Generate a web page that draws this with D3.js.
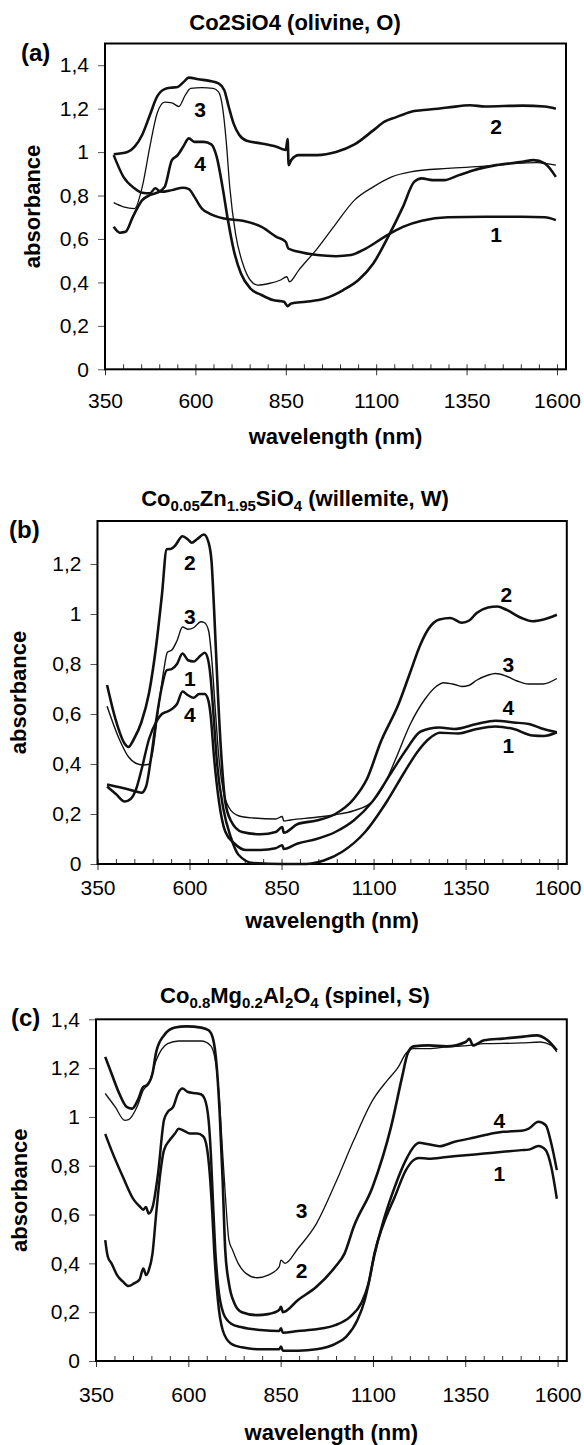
<!DOCTYPE html>
<html>
<head>
<meta charset="utf-8">
<script src="https://cdnjs.cloudflare.com/ajax/libs/d3/7.8.5/d3.min.js"></script>
<style>
  body { margin: 0; background: #fff; }
  text { font-family: "Liberation Sans", Arial, sans-serif; fill: #000; }
</style>
</head>
<body>
<svg id="chart" width="584" height="1445"></svg>
<script>
// x axis (nm) and y axis tick values
var xTicks = [350, 600, 850, 1100, 1350, 1600];
var yTicksA = [0, 0.2, 0.4, 0.6, 0.8, 1, 1.2, 1.4];
var yTicksB = [0, 0.2, 0.4, 0.6, 0.8, 1, 1.2];
var yTicksC = [0, 0.2, 0.4, 0.6, 0.8, 1, 1.2, 1.4];

// (a) Co2SiO4 olivine, [wavelength, absorbance]
var olivine1 = [[374,0.986],[401,0.886],[432,0.833],[453,0.813],[474,0.81],[489,0.833],[505,0.817],[535,0.825],[566,0.836],[582,0.83],[597,0.795],[618,0.74],[639,0.717],[680,0.694],[731,0.684],[783,0.656],[824,0.61],[850,0.587],[857,0.556],[886,0.541],[937,0.526],[989,0.521],[1030,0.526],[1071,0.556],[1123,0.61],[1174,0.656],[1226,0.684],[1298,0.7],[1401,0.702],[1504,0.702],[1566,0.7],[1597,0.687]];
var olivine2 = [[374,0.99],[412,1.0],[432,1.025],[453,1.08],[474,1.17],[494,1.255],[515,1.29],[535,1.297],[551,1.3],[566,1.32],[582,1.343],[608,1.335],[639,1.328],[664,1.316],[680,1.285],[692,1.21],[706,1.13],[721,1.08],[742,1.052],[783,1.04],[824,1.025],[850,1.01],[855,1.06],[858,0.94],[865,0.963],[886,0.986],[937,0.986],[989,1.0],[1040,1.035],[1092,1.1],[1123,1.14],[1154,1.16],[1195,1.185],[1247,1.196],[1298,1.205],[1360,1.216],[1401,1.21],[1504,1.214],[1566,1.21],[1597,1.2]];
var olivine3 = [[374,0.767],[401,0.748],[432,0.74],[453,0.84],[474,1.024],[494,1.178],[515,1.23],[535,1.227],[554,1.21],[572,1.262],[587,1.293],[618,1.297],[649,1.293],[664,1.277],[675,1.208],[685,1.055],[695,0.84],[711,0.625],[731,0.487],[752,0.41],[772,0.388],[803,0.395],[834,0.41],[853,0.426],[860,0.403],[886,0.457],[937,0.556],[989,0.671],[1040,0.779],[1092,0.84],[1143,0.886],[1195,0.909],[1298,0.925],[1401,0.935],[1484,0.948],[1545,0.952],[1597,0.94]];
var olivine4 = [[374,0.656],[391,0.629],[407,0.633],[427,0.702],[453,0.779],[474,0.802],[494,0.813],[515,0.84],[535,0.963],[551,0.986],[566,1.024],[582,1.063],[597,1.047],[623,1.047],[644,1.036],[659,0.978],[675,0.84],[690,0.687],[706,0.549],[726,0.441],[752,0.372],[783,0.342],[814,0.319],[845,0.311],[855,0.291],[865,0.303],[906,0.311],[958,0.326],[1009,0.365],[1051,0.411],[1092,0.487],[1133,0.61],[1174,0.748],[1205,0.863],[1226,0.879],[1256,0.871],[1288,0.871],[1329,0.894],[1370,0.917],[1432,0.94],[1504,0.955],[1535,0.963],[1566,0.948],[1597,0.886]];

// (b) Co0.05Zn1.95SiO4 willemite
var willemite1 = [[376,0.318],[400,0.31],[430,0.3],[455,0.29],[470,0.285],[482,0.31],[495,0.42],[510,0.58],[525,0.71],[538,0.775],[552,0.78],[566,0.8],[581,0.842],[596,0.815],[611,0.81],[631,0.835],[641,0.845],[650,0.82],[657,0.75],[665,0.6],[675,0.4],[692,0.22],[712,0.108],[733,0.037],[773,0.004],[854,0.0],[915,0.0],[965,0.014],[1016,0.05],[1077,0.128],[1137,0.252],[1185,0.37],[1220,0.45],[1250,0.5],[1280,0.525],[1330,0.522],[1380,0.54],[1431,0.55],[1481,0.54],[1532,0.514],[1562,0.512],[1598,0.527]];
var willemite2 = [[376,0.716],[399,0.579],[424,0.481],[434,0.468],[449,0.5],[469,0.566],[490,0.684],[510,0.88],[525,1.076],[538,1.259],[550,1.261],[560,1.272],[581,1.311],[596,1.298],[606,1.285],[621,1.3],[639,1.318],[652,1.285],[660,1.207],[667,1.01],[677,0.684],[687,0.42],[697,0.25],[712,0.174],[743,0.128],[793,0.119],[834,0.128],[852,0.148],[856,0.125],[894,0.16],[945,0.174],[996,0.2],[1046,0.26],[1082,0.34],[1120,0.49],[1168,0.64],[1198,0.76],[1228,0.88],[1249,0.94],[1279,0.978],[1309,0.984],[1340,0.965],[1360,0.974],[1380,1.004],[1411,1.026],[1436,1.03],[1461,1.017],[1502,0.984],[1532,0.971],[1562,0.978],[1598,0.997]];
var willemite3 = [[376,0.631],[409,0.5],[434,0.429],[454,0.403],[474,0.396],[490,0.399],[500,0.448],[515,0.618],[530,0.775],[540,0.847],[552,0.856],[566,0.893],[581,0.948],[596,0.939],[611,0.945],[631,0.969],[641,0.965],[652,0.932],[660,0.827],[670,0.618],[680,0.422],[692,0.29],[707,0.226],[733,0.193],[773,0.184],[834,0.18],[852,0.19],[856,0.172],[874,0.176],[945,0.187],[996,0.197],[1046,0.213],[1097,0.25],[1130,0.32],[1160,0.42],[1200,0.56],[1240,0.66],[1270,0.71],[1290,0.725],[1320,0.718],[1340,0.71],[1360,0.715],[1380,0.735],[1410,0.755],[1431,0.762],[1460,0.752],[1490,0.732],[1520,0.72],[1560,0.72],[1598,0.742]];
var willemite4 = [[376,0.31],[400,0.28],[424,0.25],[440,0.26],[455,0.3],[470,0.38],[490,0.5],[510,0.57],[525,0.6],[540,0.61],[552,0.62],[566,0.64],[581,0.69],[596,0.675],[611,0.665],[626,0.68],[641,0.68],[650,0.66],[657,0.6],[667,0.42],[680,0.25],[697,0.13],[722,0.082],[753,0.056],[793,0.056],[834,0.063],[852,0.075],[856,0.06],[894,0.082],[945,0.1],[996,0.128],[1046,0.174],[1097,0.25],[1150,0.37],[1190,0.46],[1228,0.53],[1279,0.546],[1319,0.54],[1380,0.56],[1431,0.573],[1481,0.566],[1522,0.56],[1562,0.54],[1598,0.527]];

// (c) Co0.8Mg0.2Al2O4 spinel
var spinel1 = [[375,0.495],[382,0.427],[392,0.4],[407,0.352],[423,0.325],[438,0.307],[453,0.318],[468,0.334],[478,0.379],[486,0.352],[493,0.372],[503,0.44],[513,0.604],[524,0.768],[534,0.863],[549,0.904],[564,0.932],[574,0.952],[589,0.943],[604,0.932],[624,0.932],[640,0.921],[650,0.877],[658,0.768],[665,0.604],[670,0.454],[680,0.25],[693,0.127],[715,0.072],[745,0.056],[796,0.048],[846,0.048],[851,0.059],[856,0.042],[897,0.042],[947,0.048],[998,0.07],[1028,0.1],[1058,0.168],[1078,0.25],[1094,0.359],[1104,0.44],[1129,0.563],[1159,0.672],[1189,0.781],[1210,0.823],[1225,0.832],[1250,0.829],[1300,0.836],[1351,0.843],[1401,0.85],[1452,0.857],[1502,0.864],[1522,0.866],[1548,0.881],[1568,0.864],[1583,0.795],[1598,0.665]];
var spinel2 = [[375,1.246],[392,1.178],[413,1.096],[433,1.041],[448,1.034],[463,1.068],[478,1.123],[488,1.13],[503,1.178],[513,1.266],[534,1.334],[564,1.366],[594,1.371],[635,1.366],[655,1.355],[667,1.32],[677,1.205],[685,1.014],[693,0.74],[700,0.454],[710,0.318],[725,0.236],[745,0.2],[786,0.188],[816,0.192],[846,0.209],[851,0.222],[856,0.2],[897,0.25],[947,0.304],[998,0.386],[1023,0.44],[1048,0.55],[1099,0.713],[1149,0.959],[1179,1.164],[1194,1.26],[1210,1.289],[1250,1.293],[1300,1.289],[1351,1.307],[1361,1.32],[1371,1.293],[1401,1.314],[1452,1.321],[1502,1.328],[1543,1.334],[1573,1.314],[1598,1.273]];
var spinel3 = [[375,1.096],[402,1.041],[428,0.986],[438,0.989],[463,1.048],[478,1.109],[493,1.137],[513,1.232],[544,1.3],[574,1.311],[635,1.311],[660,1.293],[673,1.232],[683,1.096],[692,0.877],[700,0.686],[710,0.495],[720,0.454],[735,0.4],[756,0.359],[786,0.341],[816,0.352],[846,0.386],[851,0.413],[862,0.4],[897,0.461],[947,0.563],[998,0.727],[1048,0.904],[1099,1.068],[1139,1.15],[1169,1.205],[1189,1.26],[1210,1.28],[1250,1.28],[1300,1.287],[1361,1.293],[1401,1.3],[1502,1.303],[1553,1.307],[1583,1.293],[1598,1.266]];
var spinel4 = [[375,0.93],[392,0.863],[423,0.754],[453,0.659],[468,0.634],[478,0.62],[485,0.631],[493,0.604],[503,0.629],[518,0.768],[534,0.986],[544,1.02],[559,1.041],[572,1.096],[584,1.116],[599,1.102],[614,1.098],[634,1.093],[644,1.075],[655,0.986],[661,0.85],[667,0.645],[673,0.454],[680,0.318],[695,0.195],[715,0.154],[745,0.138],[796,0.127],[846,0.123],[851,0.134],[856,0.116],[897,0.123],[947,0.13],[998,0.147],[1038,0.181],[1068,0.236],[1088,0.318],[1099,0.4],[1129,0.577],[1159,0.713],[1189,0.823],[1210,0.877],[1225,0.894],[1250,0.888],[1280,0.88],[1321,0.898],[1361,0.911],[1401,0.925],[1452,0.939],[1502,0.943],[1522,0.952],[1548,0.98],[1568,0.966],[1583,0.891],[1598,0.782]];

// curve number labels [text, wavelength, absorbance]
var labelsA = [['3',613,1.196],['4',613,0.95],['2',1432,1.12],['1',1432,0.62]];
var labelsB = [['2',601,1.205],['3',601,0.99],['1',601,0.742],['4',601,0.6],['2',1461,1.08],['3',1466,0.8],['4',1466,0.625],['1',1466,0.475]];
var labelsC = [['3',907,0.617],['2',907,0.372],['4',1442,0.986],['1',1442,0.768]];

var panels = [
  { tag: '(a)', title: [['Co2SiO4 (olivine, O)', false]],
    left: 105, right: 566, top: 43.5, bottom: 369.3, yMax: 1.5, yTicks: yTicksA,
    xBase: 39, tagX: 21, tagY: 61, titleY: 30, yLabX: 40, xLabY: 444,
    series: [[olivine1, 2.5], [olivine2, 2.6], [olivine3, 1.3], [olivine4, 2.6]], labels: labelsA },
  { tag: '(b)', title: [['Co', false], ['0.05', true], ['Zn', false], ['1.95', true], ['SiO', false], ['4', true], [' (willemite, W)', false]],
    left: 97.5, right: 566.8, top: 521, bottom: 864, yMax: 1.372, yTicks: yTicksB,
    xBase: 31, tagX: 9, tagY: 538, titleY: 506, yLabX: 26, xLabY: 928,
    series: [[willemite1, 2.5], [willemite2, 2.6], [willemite3, 1.4], [willemite4, 2.5]], labels: labelsB },
  { tag: '(c)', title: [['Co', false], ['0.8', true], ['Mg', false], ['0.2', true], ['Al', false], ['2', true], ['O', false], ['4', true], [' (spinel, S)', false]],
    left: 96, right: 566.8, top: 1019.3, bottom: 1361, yMax: 1.4, yTicks: yTicksC,
    xBase: 41, tagX: 11, tagY: 1026, titleY: 1003, yLabX: 27, xLabY: 1440,
    series: [[spinel1, 2.5], [spinel2, 2.6], [spinel3, 1.3], [spinel4, 2.5]], labels: labelsC }
];

var svg = d3.select('#chart');
var commaFormat = function(d) { return String(d).replace('.', ','); };
var tickFont = 21;

var drawPanel = function(p) {
  var x = d3.scaleLinear().domain([350, 1625]).range([p.left, p.right]);
  var y = d3.scaleLinear().domain([0, p.yMax]).range([p.bottom, p.top]);
  var g = svg.append('g');

  // minor ticks every 50 nm, pointing into the plot
  var minor = g.append('g')
    .attr('transform', 'translate(0,' + p.bottom + ')')
    .call(d3.axisBottom(x).tickValues(d3.range(350, 1601, 50)).tickSize(-5).tickFormat(''));
  minor.select('.domain').remove();
  minor.selectAll('line').attr('stroke', '#333');

  // major ticks + labels (baseline sits xBase px under the axis)
  var xAxis = g.append('g')
    .attr('transform', 'translate(0,' + p.bottom + ')')
    .call(d3.axisBottom(x).tickValues(xTicks).tickSize(6)
      .tickPadding(p.xBase - 6 - tickFont * 0.71).tickFormat(d3.format('d')));
  xAxis.select('.domain').remove();
  xAxis.selectAll('line').attr('stroke', '#333');
  xAxis.selectAll('text').attr('font-size', tickFont).attr('font-family', '"Liberation Sans", Arial, sans-serif');

  var yAxis = g.append('g')
    .attr('transform', 'translate(' + p.left + ',0)')
    .call(d3.axisLeft(y).tickValues(p.yTicks).tickSize(7).tickPadding(9).tickFormat(commaFormat));
  yAxis.select('.domain').remove();
  yAxis.selectAll('line').attr('stroke', '#555');
  yAxis.selectAll('text').attr('font-size', tickFont).attr('font-family', '"Liberation Sans", Arial, sans-serif');

  // frame
  g.append('rect')
    .attr('x', p.left).attr('y', p.top)
    .attr('width', p.right - p.left).attr('height', p.bottom - p.top)
    .attr('fill', 'none').attr('stroke', '#000').attr('stroke-width', 2);

  var line = d3.line()
    .x(function(d) { return x(d[0]); })
    .y(function(d) { return y(d[1]); })
    .curve(d3.curveMonotoneX);

  g.selectAll('path.spectrum')
    .data(p.series)
    .enter().append('path')
    .attr('class', 'spectrum')
    .attr('d', function(s) { return line(s[0]); })
    .attr('fill', 'none')
    .attr('stroke', '#111')
    .attr('stroke-width', function(s) { return s[1]; })
    .attr('stroke-linejoin', 'round');

  g.selectAll('text.num')
    .data(p.labels)
    .enter().append('text')
    .attr('class', 'num')
    .attr('x', function(d) { return x(d[1]); })
    .attr('y', function(d) { return y(d[2]); })
    .attr('dy', '0.36em')
    .attr('text-anchor', 'middle')
    .attr('font-size', 21)
    .attr('font-weight', 'bold')
    .text(function(d) { return d[0]; });

  // title with subscripts
  var title = g.append('text')
    .attr('x', 295).attr('y', p.titleY)
    .attr('text-anchor', 'middle')
    .attr('font-size', 22)
    .attr('font-weight', 'bold');
  var shifted = false;
  p.title.forEach(function(part) {
    var t = title.append('tspan').text(part[0]);
    if (part[1] && !shifted) { t.attr('dy', 5).attr('font-size', 15); shifted = true; }
    else if (part[1]) { t.attr('font-size', 15); }
    else if (shifted) { t.attr('dy', -5); shifted = false; }
  });

  g.append('text')
    .attr('x', p.tagX).attr('y', p.tagY)
    .attr('font-family', '"Liberation Serif", "Times New Roman", serif')
    .attr('font-weight', 'bold')
    .attr('font-size', 24)
    .text(p.tag);

  g.append('text')
    .attr('transform', 'translate(' + p.yLabX + ',' + ((p.top + p.bottom) / 2) + ') rotate(-90)')
    .attr('text-anchor', 'middle')
    .attr('font-size', 22)
    .attr('font-weight', 'bold')
    .text('absorbance');

  g.append('text')
    .attr('x', (p.left + p.right) / 2).attr('y', p.xLabY)
    .attr('text-anchor', 'middle')
    .attr('font-size', 22)
    .attr('font-weight', 'bold')
    .text('wavelength (nm)');
};

panels.forEach(drawPanel);
</script>
</body>
</html>
